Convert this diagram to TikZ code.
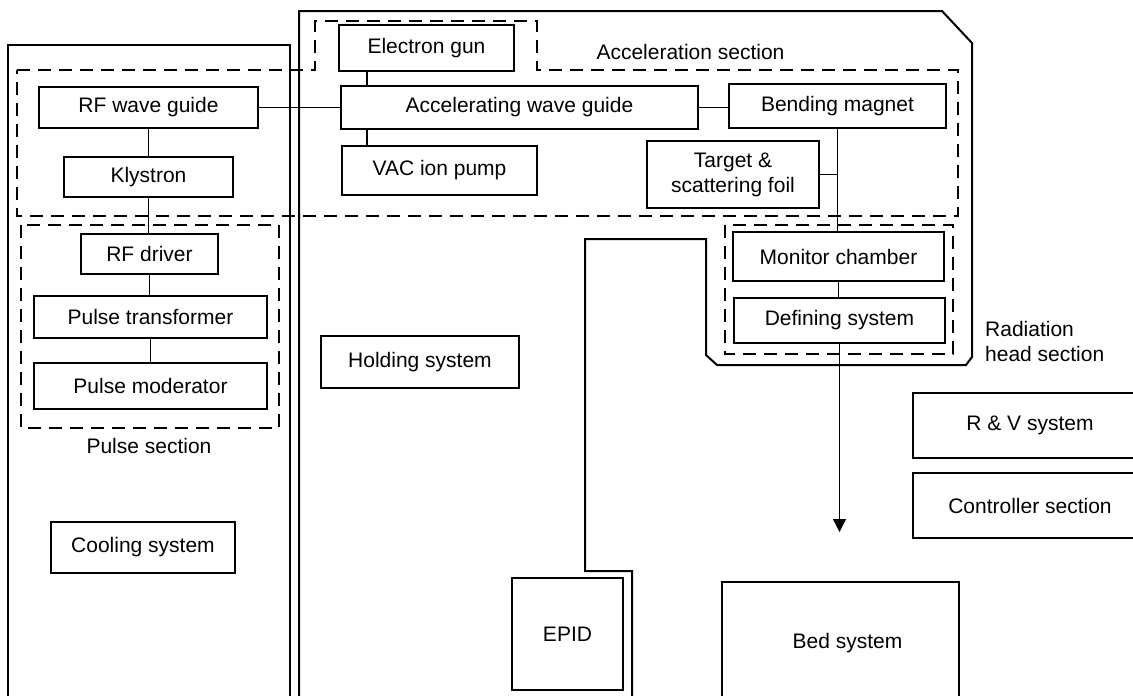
\documentclass[tikz,border=0pt]{standalone}
\usepackage{fontspec}
\setmainfont{Liberation Sans}
\usetikzlibrary{arrows.meta}
\begin{document}
\begin{tikzpicture}[x=1pt,y=-1pt,
  box/.style={draw, line width=1.4pt, inner sep=0pt, font=\fontsize{21}{25}\selectfont},
  lbl/.style={inner sep=0pt, font=\fontsize{21}{25}\selectfont},
  frame/.style={line width=2pt, line join=miter},
  sect/.style={line width=2pt, dash pattern=on 13pt off 8pt},
  link/.style={line width=1.3pt}]
\useasboundingbox (0,0) rectangle (1133,696);
\clip (0,0) rectangle (1133,696);
% outer frames
\draw[frame] (8,710) -- (8,45) -- (290,45) -- (290,710);
\draw[frame] (299,710) -- (299,11) -- (942,11) -- (972,43) -- (972,357) -- (966,365) -- (717,365) -- (706,355) -- (706,239) -- (585,239) -- (585,571) -- (632,571) -- (632,710);
% section outlines
\draw[sect] (17,70) -- (315,70) -- (315,21) -- (537,21) -- (537,70) -- (958,70) -- (958,216) -- (17,216) -- cycle;
\draw[sect] (21,225) rectangle (279,428);
\draw[sect] (725,225) rectangle (953,354);
% nodes
\node[box, minimum width=219pt, minimum height=41pt] (rfwg) at (148.5,107.5) {RF wave guide};
\node[box, minimum width=169pt, minimum height=40pt] (kly) at (148.5,177) {Klystron};
\node[box, minimum width=137pt, minimum height=40pt] (rfd) at (149.5,254) {RF driver};
\node[box, minimum width=233pt, minimum height=42pt] (ptr) at (150.5,317) {Pulse transformer};
\node[box, minimum width=233pt, minimum height=46pt] (pmod) at (150.5,386) {Pulse moderator};
\node[box, minimum width=184pt, minimum height=51pt] (cool) at (143,547.5) {Cooling system};
\node[box, minimum width=175pt, minimum height=46pt] (egun) at (426.5,48) {Electron gun};
\node[box, minimum width=357pt, minimum height=43pt] (acc) at (519.5,107.5) {Accelerating wave guide};
\node[box, minimum width=195pt, minimum height=49pt] (vac) at (439.5,170.5) {VAC ion pump};
\node[box, minimum width=172pt, minimum height=67pt, align=center] (targ) at (733,174.5) {Target \&\\scattering foil};
\node[box, minimum width=217pt, minimum height=44pt] (bend) at (837.5,106) {Bending magnet};
\node[box, minimum width=211pt, minimum height=49pt] (mon) at (838.5,256.5) {Monitor chamber};
\node[box, minimum width=211pt, minimum height=45pt] (def) at (839.5,320.5) {Defining system};
\node[box, minimum width=198pt, minimum height=52pt] (hold) at (420,362) {Holding system};
\node[box, minimum width=234pt, minimum height=65pt] (rv) at (1030,425.5) {R \& V system};
\node[box, minimum width=234pt, minimum height=65pt] (ctrl) at (1030,505.5) {Controller section};
\node[box, minimum width=111pt, minimum height=112pt] (epid) at (567.5,634) {EPID};
\node[box, minimum width=237pt, minimum height=122pt] (bed) at (840.5,643) {\hspace*{14pt}Bed system};
% labels
\node[lbl] (accl) at (690.5,52) {Acceleration section};
\node[lbl] (pulsel) at (149,446) {Pulse section};
\node[lbl, anchor=west, align=left] (radl) at (985,341) {Radiation\\head section};
% connectors
\draw[link] (rfwg.east) -- (acc.west);
\draw[link] (acc.east) -- (acc.east -| bend.west);
\draw[link] (rfwg.south) -- (rfwg.south |- kly.north);
\draw[link] (kly.south) -- (kly.south |- rfd.north);
\draw[link] (rfd.south) -- (rfd.south |- ptr.north);
\draw[link] (ptr.south) -- (ptr.south |- pmod.north);
\coordinate (gx) at (367,0);
\draw[link] (gx |- egun.south) -- (gx |- acc.north);
\draw[link] (gx |- acc.south) -- (gx |- vac.north);
\draw[link] (bend.south) -- (bend.south |- mon.north);
\draw[link] (targ.east) -- (targ.east -| bend.south);
\draw[link] (mon.south) -- (mon.south |- def.north);
\coordinate (beam) at (839.5,532);
\draw[link, -{Triangle[length=13pt,width=13pt]}] (def.south) -- (beam);
\end{tikzpicture}
\end{document}
